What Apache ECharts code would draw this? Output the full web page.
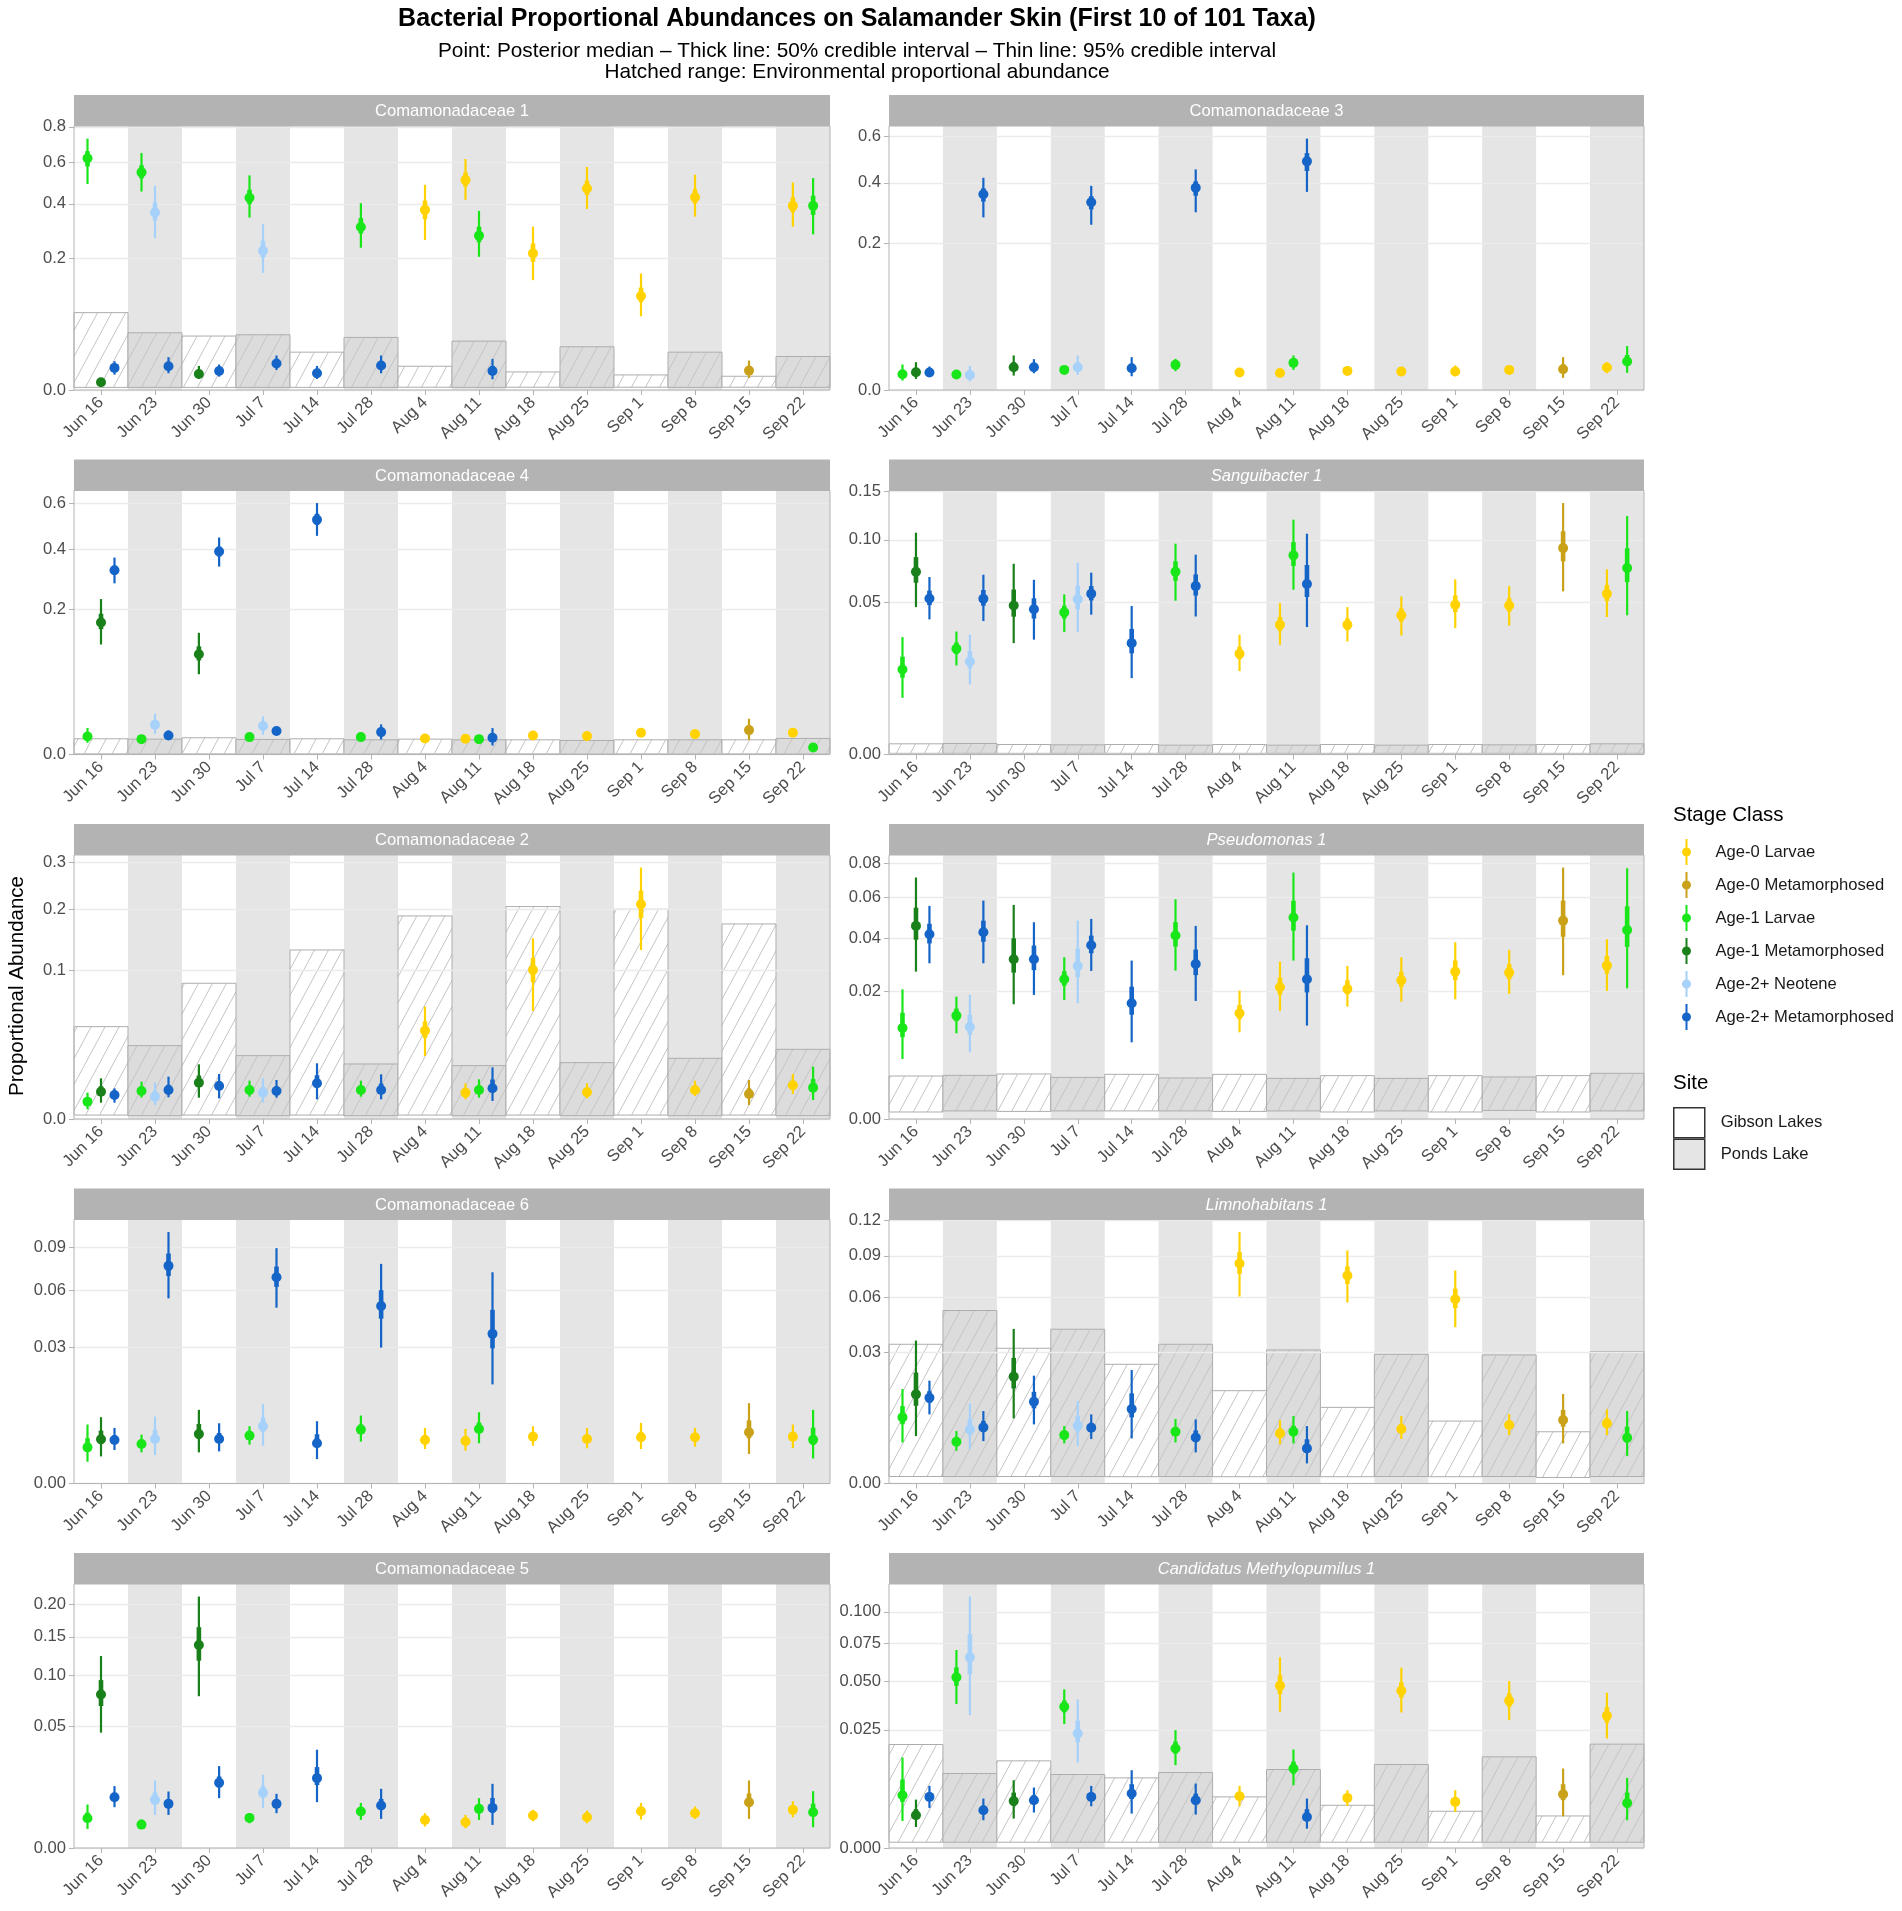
<!DOCTYPE html>
<html><head><meta charset="utf-8">
<script src="https://cdn.jsdelivr.net/npm/echarts@6/dist/echarts.min.js"></script>
<style>html,body{margin:0;padding:0;background:#fff}#c{width:1902px;height:1911px}</style>
</head><body><div id="c"></div>
<script>
// ---------------- DATA ----------------
const dates = ['Jun 16','Jun 23','Jun 30','Jul 7','Jul 14','Jul 28','Aug 4','Aug 11','Aug 18','Aug 25','Sep 1','Sep 8','Sep 15','Sep 22'];
const dateSites = ['Gibson Lakes','Ponds Lake','Gibson Lakes','Ponds Lake','Gibson Lakes','Ponds Lake','Gibson Lakes','Ponds Lake','Gibson Lakes','Ponds Lake','Gibson Lakes','Ponds Lake','Gibson Lakes','Ponds Lake'];
const siteNames = ['Gibson Lakes','Ponds Lake'];
const stageCodes = ['A0L','A0M','A1L','A1M','A2N','A2M'];
const stageNames = ['Age-0 Larvae','Age-0 Metamorphosed','Age-1 Larvae','Age-1 Metamorphosed','Age-2+ Neotene','Age-2+ Metamorphosed'];
const taxaNames = ['Comamonadaceae 1','Comamonadaceae 3','Comamonadaceae 4','Sanguibacter 1','Comamonadaceae 2','Pseudomonas 1','Comamonadaceae 6','Limnohabitans 1','Comamonadaceae 5','Candidatus Methylopumilus 1'];
const taxaItalic = [false,false,false,true,false,true,false,true,false,true];

// rows: [date, stage, median, lo95, hi95, lo50, hi50]
const com1Points = [
['Jun 16','A1L',.620,.490,.730,.577,.659],['Jun 16','A1M',.00069,.00033,.00116,.00057,.00085],['Jun 16','A2M',.00564,.00274,.00957,.0047,.0070],
['Jun 23','A1L',.547,.455,.649,.517,.583],['Jun 23','A2N',.364,.266,.482,.332,.405],['Jun 23','A2M',.00653,.00324,.01243,.0054,.0086],
['Jun 30','A1M',.00298,.00141,.0067,.0025,.0043],['Jun 30','A2M',.0042,.00207,.00748,.0035,.0053],
['Jul 7','A1L',.4265,.3433,.5318,.399,.463],['Jul 7','A2N',.224,.1585,.3184,.202,.257],['Jul 7','A2M',.00808,.00466,.01373,.0069,.0101],
['Jul 14','A2M',.00324,.00141,.0067,.0026,.0045],
['Jul 28','A1L',.307,.2338,.403,.283,.341],['Jul 28','A2M',.0069,.00324,.01373,.0057,.0093],
['Aug 4','A0L',.3746,.2598,.4863,.337,.414],
['Aug 11','A0L',.5088,.4176,.6162,.479,.546],['Aug 11','A1L',.2751,.205,.3704,.252,.308],['Aug 11','A2M',.0042,.00133,.0112,.0032,.0067],
['Aug 18','A0L',.2155,.1393,.3082,.190,.248],['Aug 25','A0L',.469,.3788,.574,.439,.506],['Sep 1','A0L',.1022,.0627,.1567,.089,.121],
['Sep 8','A0L',.4294,.3473,.5351,.402,.466],['Sep 15','A0M',.00435,.00168,.01002,.0035,.0063],
['Sep 22','A0L',.3915,.3082,.4975,.364,.429],['Sep 22','A1L',.3915,.2798,.5186,.354,.436]];
const com1EnvLo = [.00008,.00008,.00008,.00008,.00008,.00008,.00009,.00008,.00009,.00008,.00009,.00008,.00009,.00008];
const com1EnvHi = [.0691,.0378,.0336,.0352,.01653,.0319,.00652,.0276,.00377,.02154,.00262,.01653,.00218,.01294];
const com1Ticks = ['0.0','0.2','0.4','0.6','0.8'];

const com3Points = [
['Jun 16','A1L',.00231,.00082,.00605,.0018,.0036],['Jun 16','A1M',.00294,.00114,.00722,.0023,.0044],['Jun 16','A2M',.00283,.00168,.00513,.0025,.0036],
['Jun 23','A1L',.00222,.00136,.00317,.0019,.0026],['Jun 23','A2N',.00212,.00071,.00543,.0017,.0033],['Jun 23','A2M',.3573,.2778,.4198,.331,.379],
['Jun 30','A1M',.00484,.00194,.01111,.0039,.0071],['Jun 30','A2M',.00484,.00262,.00887,.0041,.0063],
['Jul 7','A1L',.00377,.00241,.00513,.0033,.0043],['Jul 7','A2N',.00484,.00212,.01111,.0039,.0070],['Jul 7','A2M',.3285,.2546,.3885,.304,.350],
['Jul 14','A2M',.00443,.00176,.01006,.0035,.0064],
['Jul 28','A1L',.00589,.00329,.00906,.0050,.0070],['Jul 28','A2M',.381,.2943,.4536,.352,.406],
['Aug 4','A0L',.00283,.00185,.00416,.0025,.0033],
['Aug 11','A0L',.00272,.00176,.00377,.0024,.0031],['Aug 11','A1L',.00687,.00377,.01111,.0058,.0084],['Aug 11','A2M',.4873,.3659,.5893,.447,.523],
['Aug 18','A0L',.0034,.00212,.00528,.0030,.0041],['Aug 25','A0L',.00317,.00212,.00443,.0028,.0036],['Sep 1','A0L',.00317,.00176,.00558,.0027,.0040],
['Sep 8','A0L',.00377,.00241,.00513,.0033,.0043],['Sep 15','A0M',.00403,.00136,.01006,.0032,.0061],
['Sep 22','A0L',.0047,.00262,.00722,.0040,.0056],['Sep 22','A1L',.00757,.00272,.01798,.0060,.0114]];
const com3EnvLo = null;
const com3EnvHi = null;
const com3Ticks = ['0.0','0.2','0.4','0.6'];

const com4Points = [
['Jun 16','A1L',.00309,.0013,.00662,.0025,.0043],['Jun 16','A1M',.1655,.1148,.2293,.149,.188],['Jun 16','A2M',.322,.278,.368,.308,.338],
['Jun 23','A1L',.00224,.00145,.00287,.0020,.0025],['Jun 23','A2N',.0084,.00408,.01579,.0070,.0110],['Jun 23','A2M',.00345,.00205,.0055,.0030,.0042],
['Jun 30','A1M',.0955,.0611,.1405,.084,.111],['Jun 30','A2M',.3908,.335,.4467,.372,.410],
['Jul 7','A1L',.00287,.00187,.00408,.0025,.0033],['Jul 7','A2N',.00766,.00369,.01378,.0064,.0098],['Jul 7','A2M',.0052,.00345,.00713,.0046,.0059],
['Jul 14','A2M',.5227,.4536,.5998,.500,.550],
['Jul 28','A1L',.00287,.00187,.00408,.0025,.0033],['Jul 28','A2M',.00476,.00215,.00859,.0039,.0061],
['Aug 4','A0L',.00244,.00161,.00345,.0022,.0028],
['Aug 11','A0L',.00234,.00145,.00345,.0020,.0027],['Aug 11','A1L',.00224,.00145,.00321,.0020,.0026],['Aug 11','A2M',.00265,.00077,.00662,.0020,.0040],
['Aug 18','A0L',.00345,.00215,.00505,.0030,.0041],['Aug 25','A0L',.00321,.00205,.00448,.0028,.0037],['Sep 1','A0L',.00448,.00287,.00629,.0039,.0051],
['Sep 8','A0L',.00395,.00276,.00535,.0035,.0044],['Sep 15','A0M',.00565,.00205,.01214,.0045,.0079],
['Sep 22','A0L',.00448,.00321,.00597,.0041,.0050],['Sep 22','A1L',.00047,.00018,.00077,.0004,.0006]];
const com4EnvLo = [.000005,.000005,.000005,.000005,.000005,.000005,.000005,.000005,.000005,.000005,.000005,.000005,.000005,.000005];
const com4EnvHi = [.00234,.00224,.00265,.00215,.00234,.00205,.00224,.00205,.00205,.00187,.00205,.00205,.00205,.00244];
const com4Ticks = ['0.0','0.2','0.4','0.6'];

const sang1Points = [
['Jun 16','A1L',.01568,.00697,.0299,.0128,.0207],['Jun 16','A1M',.0725,.0471,.1067,.064,.0845],['Jun 16','A2M',.0528,.0396,.0683,.0484,.0582],
['Jun 23','A1L',.02424,.0172,.0328,.0219,.0272],['Jun 23','A2N',.01878,.01064,.0311,.0161,.0231],['Jun 23','A2M',.0526,.0386,.0701,.0480,.0587],
['Jun 30','A1M',.0482,.0269,.0789,.0412,.0590],['Jun 30','A2M',.0457,.0286,.0662,.0401,.0529],
['Jul 7','A1L',.0438,.0325,.0556,.0401,.0479],['Jul 7','A2N',.0522,.0325,.0798,.0457,.0619],['Jul 7','A2M',.056,.0424,.0717,.0515,.0615],
['Jul 14','A2M',.0269,.01265,.0478,.0222,.0342],
['Jul 28','A1L',.0725,.0513,.0964,.0655,.0809],['Jul 28','A2M',.0615,.0413,.0866,.0548,.0703],
['Aug 4','A0L',.022,.01508,.0311,.0197,.0252],
['Aug 11','A0L',.0365,.0261,.0497,.0331,.0411],['Aug 11','A1L',.086,.0589,.1196,.0771,.0978],['Aug 11','A2M',.063,.0352,.1057,.0538,.0779],
['Aug 18','A0L',.0365,.0277,.0471,.0336,.0402],['Aug 25','A0L',.042,.0307,.0542,.0383,.0463],['Sep 1','A0L',.0486,.0346,.0665,.0440,.0549],
['Sep 8','A0L',.0482,.0361,.0615,.0442,.0529],['Sep 15','A0M',.0924,.0577,.1371,.0809,.108],
['Sep 22','A0L',.056,.041,.0743,.0511,.0624],['Sep 22','A1L',.0754,.042,.1233,.0644,.0922]];
const sang1EnvLo = [.000003,.000003,.000003,.000003,.000003,.000003,.000003,.000003,.000003,.000003,.000003,.000003,.000003,.000003];
const sang1EnvHi = [.000247,.000263,.000217,.000203,.000217,.000189,.000217,.000189,.000217,.000189,.000217,.000203,.000217,.000247];
const sang1Ticks = ['0.00','0.05','0.10','0.15'];

const com2Points = [
['Jun 16','A1L',.00137,.00043,.00316,.0011,.0020],['Jun 16','A1M',.0034,.00121,.00753,.0027,.0049],['Jun 16','A2M',.00262,.00121,.00428,.0022,.0032],
['Jun 23','A1L',.00357,.00207,.00635,.0031,.0046],['Jun 23','A2N',.00227,.00089,.00601,.0018,.0036],['Jun 23','A2M',.00383,.00214,.00816,.0033,.0053],
['Jun 30','A1M',.00601,.00207,.0136,.0047,.0086],['Jun 30','A2M',.00496,.00194,.00922,.0040,.0065],
['Jul 7','A1L',.00383,.00227,.00669,.0033,.0048],['Jul 7','A2N',.00316,.00121,.00753,.0025,.0047],['Jul 7','A2M',.00357,.00207,.00692,.0031,.0047],
['Jul 14','A2M',.00579,.00176,.01411,.0045,.0087],
['Jul 28','A1L',.00383,.00227,.00669,.0033,.0048],['Jul 28','A2M',.00383,.00176,.00908,.0031,.0057],
['Aug 4','A0L',.03553,.01807,.05745,.0298,.0432],
['Aug 11','A0L',.00316,.00176,.00579,.0027,.0041],['Aug 11','A1L',.00383,.00207,.00716,.0032,.0050],['Aug 11','A2M',.00428,.00148,.01215,.0034,.0071],
['Aug 18','A0L',.1011,.0531,.1486,.0852,.118],['Aug 25','A0L',.00324,.00194,.00579,.0028,.0041],['Sep 1','A0L',.2098,.13,.2876,.184,.237],
['Sep 8','A0L',.00383,.00241,.00669,.0034,.0048],['Sep 15','A0M',.00285,.00089,.00692,.0022,.0043],
['Sep 22','A0L',.00516,.00285,.00922,.0044,.0066],['Sep 22','A1L',.00447,.00164,.01247,.0035,.0073]];
const com2EnvLo = [.00007,.00005,.00007,.00005,.00007,.00005,.00007,.00005,.00007,.00005,.00007,.00005,.00007,.00005];
const com2EnvHi = [.0388,.02448,.0838,.01826,.13,.01377,.1876,.01295,.2053,.01445,.2001,.01676,.1731,.0221];
const com2Ticks = ['0.0','0.1','0.2','0.3'];

const pseu1Points = [
['Jun 16','A1L',.01013,.00441,.02057,.0082,.0138],['Jun 16','A1M',.0456,.02656,.0713,.0393,.0546],['Jun 16','A2M',.04173,.02965,.05552,.0377,.0466],
['Jun 23','A1L',.01307,.00898,.01831,.0117,.0149],['Jun 23','A2N',.01036,.00544,.01882,.0087,.0133],['Jun 23','A2M',.04264,.02965,.05833,.0384,.0481],
['Jun 30','A1M',.0312,.01609,.05604,.0262,.0399],['Jun 30','A2M',.0312,.01882,.04733,.0271,.0368],
['Jul 7','A1L',.02387,.01733,.03198,.0217,.0267],['Jul 7','A2N',.02865,.01637,.04813,.0246,.0355],['Jul 7','A2M',.0369,.0268,.04895,.0336,.0411],
['Jul 14','A2M',.01637,.00719,.03068,.0133,.0214],
['Jul 28','A1L',.04113,.02692,.05905,.0364,.0474],['Jul 28','A2M',.0294,.01704,.04558,.0253,.0351],
['Aug 4','A0L',.01366,.00919,.02015,.0122,.0159],
['Aug 11','A0L',.02121,.01427,.03029,.0189,.0244],['Aug 11','A1L',.0496,.03068,.07425,.0434,.0582],['Aug 11','A2M',.02387,.01066,.0459,.0196,.0316],
['Aug 18','A0L',.02068,.01544,.02865,.0190,.0235],['Aug 25','A0L',.02353,.01685,.03198,.0213,.0265],['Sep 1','A0L',.02656,.01752,.03819,.0236,.0307],
['Sep 8','A0L',.0262,.01912,.03495,.0239,.0293],['Sep 15','A0M',.04813,.02526,.07729,.0406,.0583],
['Sep 22','A0L',.02877,.02005,.0395,.0259,.0325],['Sep 22','A1L',.04371,.02089,.07689,.0362,.0553]];
const pseu1EnvLo = [.00006,.00008,.00007,.00008,.00008,.00008,.00007,.00008,.00006,.00008,.00006,.00009,.00006,.00008];
const pseu1EnvHi = [.00226,.00233,.00248,.00212,.00244,.00206,.00244,.00202,.0023,.00202,.0023,.00216,.0023,.00255];
const pseu1Ticks = ['0.00','0.02','0.04','0.06','0.08'];

const com6Points = [
['Jun 16','A1L',.0021,.00076,.00559,.0016,.0033],['Jun 16','A1M',.00314,.00118,.00707,.0025,.0045],['Jun 16','A2M',.00305,.0018,.00497,.0026,.0037],
['Jun 23','A1L',.00251,.00156,.00384,.0022,.0030],['Jun 23','A2N',.00319,.0013,.00721,.0026,.0046],['Jun 23','A2M',.0762,.05514,.1017,.0693,.0851],
['Jun 30','A1M',.00395,.00156,.00873,.0032,.0057],['Jun 30','A2M',.00319,.00166,.00584,.0027,.0041],
['Jul 7','A1L',.00369,.00243,.00527,.0033,.0042],['Jul 7','A2N',.00527,.0023,.01021,.0043,.0070],['Jul 7','A2M',.06842,.0497,.08911,.0622,.0757],
['Jul 14','A2M',.0026,.00096,.00624,.0021,.0039],
['Jul 28','A1L',.00467,.00282,.00743,.0041,.0056],['Jul 28','A2M',.05065,.02972,.0776,.0437,.0601],
['Aug 4','A0L',.00305,.00191,.00497,.0027,.0037],
['Aug 11','A0L',.00291,.00173,.00479,.0025,.0036],['Aug 11','A1L',.00479,.0026,.00818,.0041,.0060],['Aug 11','A2M',.03603,.0158,.07179,.0294,.0485],
['Aug 18','A0L',.00353,.0023,.00527,.0031,.0041],['Aug 25','A0L',.00319,.00199,.00497,.0028,.0038],['Sep 1','A0L',.00343,.00191,.00591,.0029,.0043],
['Sep 8','A0L',.00343,.00218,.00497,.0030,.0040],['Sep 15','A0M',.00422,.0014,.01039,.0033,.0064],
['Sep 22','A0L',.00353,.00203,.00559,.0030,.0043],['Sep 22','A1L',.00309,.00101,.00873,.0024,.0050]];
const com6EnvLo = null;
const com6EnvHi = null;
const com6Ticks = ['0.00','0.03','0.06','0.09'];

const limn1Points = [
['Jun 16','A1L',.00759,.00293,.01552,.0061,.0104],['Jun 16','A1M',.01381,.00391,.03549,.0105,.0214],['Jun 16','A2M',.0128,.0083,.01838,.0113,.0148],
['Jun 23','A1L',.00303,.00186,.00478,.0026,.0036],['Jun 23','A2N',.00508,.00206,.01116,.0041,.0072],['Jun 23','A2M',.00547,.00312,.00912,.0047,.0068],
['Jun 30','A1M',.01984,.00737,.04153,.0157,.0274],['Jun 30','A2M',.01163,.00607,.02021,.0098,.0146],
['Jul 7','A1L',.00407,.00279,.00573,.0036,.0047],['Jul 7','A2N',.0058,.00243,.01182,.0047,.0079],['Jul 7','A2M',.0054,.00343,.0083,.0047,.0064],
['Jul 14','A2M',.00963,.00353,.02239,.0076,.0141],
['Jul 28','A1L',.00465,.00293,.00722,.0041,.0055],['Jul 28','A2M',.00369,.00168,.00714,.0030,.0049],
['Aug 4','A0L',.08413,.06075,.10984,.0764,.0931],
['Aug 11','A0L',.00436,.00265,.00699,.0038,.0053],['Aug 11','A1L',.00465,.00279,.0079,.0040,.0058],['Aug 11','A2M',.00214,.0007,.00573,.0017,.0034],
['Aug 18','A0L',.07519,.05691,.09438,.0692,.0819],['Aug 25','A0L',.00515,.00343,.0079,.0046,.0061],['Sep 1','A0L',.05903,.04243,.07885,.0535,.0660],
['Sep 8','A0L',.00593,.00407,.00838,.0053,.0068],['Sep 15','A0M',.00699,.00279,.01391,.0056,.0094],
['Sep 22','A0L',.00628,.00407,.00955,.0056,.0074],['Sep 22','A1L',.00364,.0013,.00912,.0029,.0056]];
const limn1EnvLo = [.000085,.000085,.000085,.000085,.00008,.000085,.00008,.000085,.00008,.000085,.00008,.000085,.000063,.000085];
const limn1EnvHi = [.03368,.05198,.03178,.04135,.02469,.03368,.01497,.031,.01007,.02901,.00677,.02871,.00465,.03023];
const limn1Ticks = ['0.00','0.03','0.06','0.09','0.12'];

const com5Points = [
['Jun 16','A1L',.00298,.00122,.00635,.0024,.0042],['Jun 16','A1M',.0792,.04474,.1239,.0678,.0948],['Jun 16','A2M',.00869,.0056,.01287,.0077,.0102],
['Jun 23','A1L',.00184,.00122,.00272,.0016,.0021],['Jun 23','A2N',.0078,.00368,.01534,.0064,.0104],['Jun 23','A2M',.00655,.00368,.01074,.0056,.0080],
['Jun 30','A1M',.1385,.07748,.2126,.118,.164],['Jun 30','A2M',.0143,.00835,.02256,.0123,.0172],
['Jul 7','A1L',.00305,.00206,.00407,.0027,.0034],['Jul 7','A2N',.01023,.00532,.01803,.0086,.0130],['Jul 7','A2M',.00655,.00407,.00987,.0057,.0077],
['Jul 14','A2M',.01642,.00706,.03249,.0133,.0220],
['Jul 28','A1L',.00447,.00265,.00685,.0039,.0053],['Jul 28','A2M',.00606,.00285,.01178,.0050,.0081],
['Aug 4','A0L',.00265,.00154,.00407,.0023,.0031],
['Aug 11','A0L',.00223,.00131,.00368,.0019,.0027],['Aug 11','A1L',.00515,.00265,.00835,.0043,.0063],['Aug 11','A2M',.00541,.00179,.01386,.0042,.0084],
['Aug 18','A0L',.00354,.00241,.00489,.0032,.0040],['Aug 25','A0L',.00318,.00206,.00472,.0028,.0037],['Sep 1','A0L',.00455,.00272,.00685,.0039,.0054],
['Sep 8','A0L',.00407,.00285,.00578,.0037,.0047],['Sep 15','A0M',.00706,.00285,.01534,.0057,.0100],
['Sep 22','A0L',.00489,.00318,.00737,.0043,.0058],['Sep 22','A1L',.0043,.00145,.01086,.0034,.0066]];
const com5EnvLo = null;
const com5EnvHi = null;
const com5Ticks = ['0.00','0.05','0.10','0.15','0.20'];

const meth1Points = [
['Jun 16','A1L',.00499,.00131,.01468,.0038,.0084],['Jun 16','A1M',.00192,.00079,.0042,.0015,.0027],['Jun 16','A2M',.00468,.00288,.00691,.0041,.0055],
['Jun 23','A1L',.05218,.03712,.07027,.0472,.0585],['Jun 23','A2N',.06515,.03165,.1133,.0541,.0820],['Jun 23','A2M',.00255,.00138,.00438,.0022,.0032],
['Jun 30','A1M',.00397,.00155,.00823,.0032,.0055],['Jun 30','A2M',.00409,.00225,.00655,.0035,.0050],
['Jul 7','A1L',.03576,.02751,.04509,.0330,.0390],['Jul 7','A2N',.02351,.01309,.03957,.0201,.0291],['Jul 7','A2M',.00468,.00312,.00691,.0042,.0055],
['Jul 14','A2M',.00531,.00212,.01085,.0043,.0073],
['Jul 28','A1L',.01775,.0123,.0249,.0160,.0203],['Jul 28','A2M',.00409,.002,.00744,.0034,.0053],
['Aug 4','A0L',.0048,.00312,.00691,.0042,.0055],
['Aug 11','A0L',.04721,.03326,.06515,.0426,.0535],['Aug 11','A1L',.01132,.00706,.01739,.0099,.0134],['Aug 11','A2M',.00173,.00067,.00438,.0014,.0027],
['Aug 18','A0L',.0045,.00317,.00598,.0041,.0050],['Aug 25','A0L',.04433,.03294,.05827,.0406,.0492],['Sep 1','A0L',.00381,.00233,.00598,.0033,.0046],
['Sep 8','A0L',.03886,.02931,.05,.0357,.0428],['Sep 15','A0M',.00518,.0018,.01132,.0041,.0073],
['Sep 22','A0L',.03134,.0215,.04321,.0281,.0355],['Sep 22','A1L',.00364,.00138,.00881,.0029,.0055]];
const meth1EnvLo = [.00006,.00006,.00006,.00006,.00006,.00006,.00006,.00006,.00006,.00006,.00006,.00006,.00006,.00006];
const meth1EnvHi = [.0192,.00994,.01361,.00967,.00881,.01021,.00468,.01104,.00327,.01249,.00242,.01489,.00184,.01933];
const meth1Ticks = ['0.000','0.025','0.050','0.075','0.100'];

// ---------------- STYLE / LAYOUT ----------------
const stageColors = ['#FFD200','#C9A21A','#19E619','#1A801A','#A6D1FA','#1565C8'];
const siteFill = ['#FFFFFF','#DCDCDC'];
const bandColor = '#E5E5E5';
const FONT = '"Liberation Sans", Arial, Helvetica, sans-serif';
const colLeft = [74, 889], colWidth = [756, 755];
const rowTop0 = 95, rowPitch = 364.5, stripH = 31, plotH = 264;

const panelPoints = [com1Points, com3Points, com4Points, sang1Points, com2Points, pseu1Points, com6Points, limn1Points, com5Points, meth1Points];
const panelEnvLo = [com1EnvLo, com3EnvLo, com4EnvLo, sang1EnvLo, com2EnvLo, pseu1EnvLo, com6EnvLo, limn1EnvLo, com5EnvLo, meth1EnvLo];
const panelEnvHi = [com1EnvHi, com3EnvHi, com4EnvHi, sang1EnvHi, com2EnvHi, pseu1EnvHi, com6EnvHi, limn1EnvHi, com5EnvHi, meth1EnvHi];
const panelTicks = [com1Ticks, com3Ticks, com4Ticks, sang1Ticks, com2Ticks, pseu1Ticks, com6Ticks, limn1Ticks, com5Ticks, meth1Ticks];

function makeHatch(color) {
  const w = 14, h = 26;
  const c = document.createElement('canvas'); c.width = w; c.height = h;
  const ctx = c.getContext('2d');
  ctx.strokeStyle = color; ctx.lineWidth = 1;
  for (let k = -1; k <= 1; k++) {
    ctx.beginPath(); ctx.moveTo(-w + k * w, 2 * h); ctx.lineTo(2 * w + k * w, -h); ctx.stroke();
  }
  return c;
}
const hatchCanvas = makeHatch('#C4C4C4');

const grids = [], xAxes = [], yAxes = [], series = [], graphics = [];

panelPoints.forEach((pts, p) => {
  const row = Math.floor(p / 2), col = p % 2;
  const stripTop = rowTop0 + row * rowPitch;
  const top = stripTop + stripH;
  grids.push({left: colLeft[col], top: top, width: colWidth[col], height: plotH,
    show: true, backgroundColor: 'rgba(0,0,0,0)', borderColor: '#B3B3B3', borderWidth: 1, z: 3,
    containLabel: false, outerBoundsMode: 'none'});
  graphics.push({type: 'rect', left: colLeft[col], top: stripTop, shape: {width: colWidth[col], height: stripH},
    style: {fill: '#B3B3B3'}, silent: true});
  graphics.push({type: 'text', x: colLeft[col] + colWidth[col] / 2, y: stripTop + stripH / 2 + 1,
    style: {text: taxaNames[p], fill: '#FFFFFF', font: (taxaItalic[p] ? 'italic ' : '') + '16.6px ' + FONT,
      align: 'center', verticalAlign: 'middle'}, silent: true});

  const tickVals = panelTicks[p].map(Number);
  let maxS = 0;
  pts.forEach(r => { maxS = Math.max(maxS, Math.sqrt(r[4])); });
  if (panelEnvHi[p]) panelEnvHi[p].forEach(v => { maxS = Math.max(maxS, Math.sqrt(v)); });
  const yMax = maxS * 1.05;
  const sqrtTicks = tickVals.map(Math.sqrt);
  const labels = panelTicks[p];

  xAxes.push({gridIndex: p, type: 'category', data: dates, boundaryGap: true,
    axisLine: {show: false}, splitLine: {show: false},
    axisTick: {show: true, alignWithLabel: true, length: 5, lineStyle: {color: '#B3B3B3', width: 1}},
    axisLabel: {interval: 0, rotate: 45, margin: 10, fontSize: 16.6, color: '#4D4D4D', fontFamily: FONT}, z: 1});
  yAxes.push({gridIndex: p, type: 'value', min: 0, max: yMax,
    axisLine: {show: false},
    axisTick: {show: true, length: 5, customValues: sqrtTicks, lineStyle: {color: '#B3B3B3', width: 1}},
    axisLabel: {customValues: sqrtTicks, margin: 8, fontSize: 16.6, color: '#4D4D4D', fontFamily: FONT,
      formatter: function (v) {
        let bi = 0, bd = Infinity;
        sqrtTicks.forEach((t, i) => { const d = Math.abs(t - v); if (d < bd) { bd = d; bi = i; } });
        return labels[bi];
      }},
    splitLine: {show: true, lineStyle: {color: '#EBEBEB', width: 1.3}}, z: 1});

  siteNames.forEach((site, si) => {
    const data = [];
    dates.forEach((d, i) => { if (dateSites[i] === site) data.push([i]); });
    series.push({type: 'custom', name: site, xAxisIndex: p, yAxisIndex: p, z: 0, silent: true,
      itemStyle: {color: si === 0 ? '#FFFFFF' : bandColor},
      encode: {x: 0},
      data: data,
      renderItem: function (params, api) {
        const i = api.value(0);
        const bw = api.size([1, 0])[0];
        const cx = api.coord([i, 0])[0];
        const cs = params.coordSys;
        return {type: 'rect', shape: {x: cx - bw / 2, y: cs.y, width: bw, height: cs.height},
          style: {fill: si === 0 ? '#FFFFFF' : bandColor}};
      }});
  });

  if (panelEnvHi[p]) {
    const envData = dates.map((d, i) => [i, Math.sqrt(panelEnvLo[p][i]), Math.sqrt(panelEnvHi[p][i]), dateSites[i] === 'Ponds Lake' ? 1 : 0]);
    series.push({type: 'custom', name: 'Environment', xAxisIndex: p, yAxisIndex: p, z: 0.5, silent: true,
      encode: {x: 0, y: [1, 2]}, data: envData,
      renderItem: function (params, api) {
        const i = api.value(0);
        const bw = api.size([1, 0])[0];
        const pl = api.coord([i, api.value(1)]);
        const ph = api.coord([i, api.value(2)]);
        const s = api.value(3);
        const shape = {x: pl[0] - bw / 2, y: ph[1], width: bw, height: pl[1] - ph[1]};
        return {type: 'group', children: [
          {type: 'rect', shape: shape, style: {fill: siteFill[s]}},
          {type: 'rect', shape: shape, style: {fill: {image: hatchCanvas, repeat: 'repeat'}}},
          {type: 'rect', shape: shape, style: {fill: 'none', stroke: '#ADADAD', lineWidth: 1}}
        ]};
      }});
  }

  const present = dates.map(d => stageCodes.filter(c => pts.some(r => r[0] === d && r[1] === c)));
  stageCodes.forEach((code, si) => {
    const color = stageColors[si];
    const data = [];
    pts.forEach(r => {
      if (r[1] !== code) return;
      const di = dates.indexOf(r[0]);
      const grp = present[di];
      data.push([di, grp.indexOf(code), grp.length, Math.sqrt(r[2]), Math.sqrt(r[3]), Math.sqrt(r[4]), Math.sqrt(r[5]), Math.sqrt(r[6])]);
    });
    series.push({type: 'custom', name: stageNames[si], xAxisIndex: p, yAxisIndex: p, z: 2,
      itemStyle: {color: color}, encode: {x: 0, y: 3}, data: data,
      renderItem: function (params, api) {
        const i = api.value(0), slot = api.value(1), n = api.value(2);
        const bw = api.size([1, 0])[0];
        const off = (-0.375 + (slot + 0.5) * 0.75 / n) * bw;
        const pm = api.coord([i, api.value(3)]);
        const x = pm[0] + off;
        const y95l = api.coord([i, api.value(4)])[1], y95h = api.coord([i, api.value(5)])[1];
        const y50l = api.coord([i, api.value(6)])[1], y50h = api.coord([i, api.value(7)])[1];
        return {type: 'group', children: [
          {type: 'line', shape: {x1: x, y1: y95l, x2: x, y2: y95h}, style: {stroke: color, lineWidth: 2.2}},
          {type: 'line', shape: {x1: x, y1: y50l, x2: x, y2: y50h}, style: {stroke: color, lineWidth: 4.6}},
          {type: 'circle', shape: {cx: x, cy: pm[1], r: 5}, style: {fill: color}}
        ]};
      }});
  });
});

graphics.push({type: 'text', x: 857, y: 19.5, style: {text: 'Bacterial Proportional Abundances on Salamander Skin (First 10 of 101 Taxa)',
  font: 'bold 25px ' + FONT, fill: '#000', align: 'center', verticalAlign: 'middle'}, silent: true});
graphics.push({type: 'text', x: 857, y: 51.5, style: {text: 'Point: Posterior median \u2013 Thick line: 50% credible interval \u2013 Thin line: 95% credible interval',
  font: '20.8px ' + FONT, fill: '#000', align: 'center', verticalAlign: 'middle'}, silent: true});
graphics.push({type: 'text', x: 857, y: 72.5, style: {text: 'Hatched range: Environmental proportional abundance',
  font: '20.8px ' + FONT, fill: '#000', align: 'center', verticalAlign: 'middle'}, silent: true});
graphics.push({type: 'text', x: 17, y: 986, rotation: Math.PI / 2, style: {text: 'Proportional Abundance',
  font: '20.5px ' + FONT, fill: '#000', align: 'center', verticalAlign: 'middle'}, silent: true});
graphics.push({type: 'text', x: 1673, y: 815, style: {text: 'Stage Class', font: '20.5px ' + FONT, fill: '#000', align: 'left', verticalAlign: 'middle'}, silent: true});
graphics.push({type: 'text', x: 1673, y: 1083, style: {text: 'Site', font: '20.5px ' + FONT, fill: '#000', align: 'left', verticalAlign: 'middle'}, silent: true});

const stageIcon = 'path://M5,0H7V26H5Z M6,8.5A4.5,4.5 0 1 1 6,17.5A4.5,4.5 0 1 1 6,8.5Z';

const chart = echarts.init(document.getElementById('c'), null, {renderer: 'canvas', width: 1902, height: 1911});
chart.setOption({
  animation: false,
  backgroundColor: '#FFFFFF',
  grid: grids, xAxis: xAxes, yAxis: yAxes, series: series,
  graphic: {elements: graphics},
  legend: [
    {orient: 'vertical', left: 1677, top: 834, itemWidth: 48, itemHeight: 26, itemGap: 7, selectedMode: false,
      data: stageNames.map(n => ({name: n, icon: stageIcon})),
      textStyle: {fontSize: 16.6, color: '#1A1A1A', fontFamily: FONT}},
    {orient: 'vertical', left: 1668, top: 1102, itemWidth: 31, itemHeight: 30, itemGap: 0, selectedMode: false,
      data: [{name: 'Gibson Lakes', icon: 'rect', itemStyle: {color: '#FFFFFF', borderColor: '#333333', borderWidth: 1.5}},
             {name: 'Ponds Lake', icon: 'rect', itemStyle: {color: bandColor, borderColor: '#333333', borderWidth: 1.5}}],
      textStyle: {fontSize: 16.6, color: '#1A1A1A', fontFamily: FONT, padding: [0, 0, 0, 11]}}
  ]
});
</script></body></html>
